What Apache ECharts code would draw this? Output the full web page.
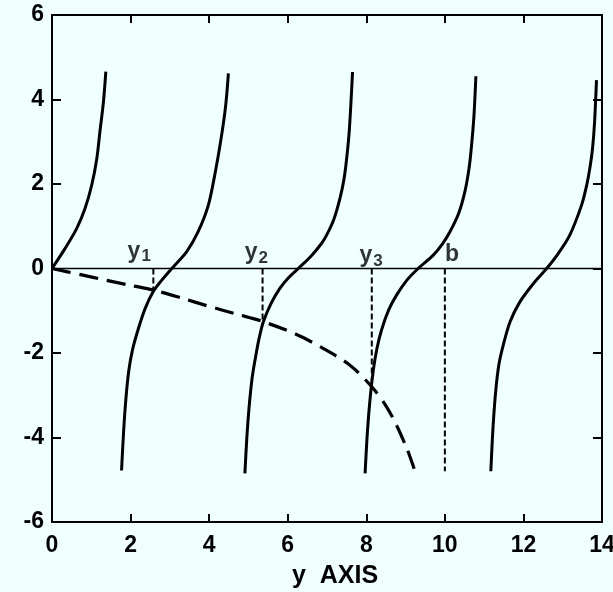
<!DOCTYPE html>
<html>
<head>
<meta charset="utf-8">
<script src="https://cdn.jsdelivr.net/npm/echarts@6/dist/echarts.min.js"></script>
<style>
html,body{margin:0;padding:0;background:#f0ffff;}
#c{width:613px;height:592px;}
</style>
</head>
<body>
<div id="c"></div>
<script>
// Tick labels
const xTicks = [0, 2, 4, 6, 8, 10, 12, 14];
const yTicks = [-6, -4, -2, 0, 2, 4, 6];

// Solid tangent-like branches, [y, value]
const branch1 = [[0,0],[0.33,0.47],[0.63,0.95],[0.84,1.42],[1.01,1.97],[1.14,2.60],[1.22,3.24],[1.31,3.95],[1.37,4.66]];
const branch2 = [[1.77,-4.78],[1.82,-3.90],[1.88,-3.10],[1.95,-2.45],[2.05,-1.92],[2.20,-1.42],[2.37,-0.95],[2.58,-0.54],[2.79,-0.28],[3.05,0],[3.43,0.40],[3.72,0.87],[3.98,1.50],[4.15,2.25],[4.30,3.05],[4.42,3.85],[4.49,4.62]];
const branch3 = [[4.91,-4.85],[4.96,-4.00],[5.02,-3.25],[5.10,-2.55],[5.20,-2.00],[5.28,-1.62],[5.38,-1.26],[5.58,-0.82],[5.80,-0.47],[6.02,-0.22],[6.27,0],[6.61,0.31],[6.85,0.58],[6.99,0.79],[7.18,1.18],[7.33,1.66],[7.43,2.10],[7.50,2.60],[7.57,3.30],[7.65,4.65]];
const branch4 = [[7.97,-4.85],[8.03,-3.85],[8.10,-3.05],[8.18,-2.40],[8.27,-1.90],[8.39,-1.45],[8.57,-0.98],[8.77,-0.63],[9.03,-0.28],[9.32,0],[9.70,0.31],[9.93,0.57],[10.13,0.87],[10.35,1.30],[10.51,1.82],[10.62,2.40],[10.68,2.92],[10.74,3.60],[10.79,4.55]];
const branch5 = [[11.17,-4.80],[11.23,-3.70],[11.30,-2.85],[11.38,-2.25],[11.49,-1.80],[11.66,-1.26],[11.91,-0.79],[12.25,-0.36],[12.59,0],[12.89,0.36],[13.18,0.79],[13.48,1.50],[13.61,1.97],[13.69,2.37],[13.76,2.85],[13.81,3.45],[13.86,4.46]];

// Long-dashed curve
const dashedCurve = [[0,0],[0.70,-0.14],[1.39,-0.28],[2.00,-0.40],[2.58,-0.51],[3.30,-0.70],[3.94,-0.88],[4.70,-1.08],[5.38,-1.26],[6.20,-1.55],[6.90,-1.89],[7.60,-2.30],[8.14,-2.80],[8.50,-3.25],[8.77,-3.71],[9.05,-4.30],[9.24,-4.80]];

// Vertical markers: [position, lower end]
const markerX = [2.58, 5.36, 8.14, 10.0];
const markerLow = [-0.51, -1.26, -2.76, -4.80];
const markerBase = ['y', 'y', 'y', 'b'];
const markerSub = ['1', '2', '3', ''];
const labelPos = [[2.22,0.10],[5.20,0.07],[8.12,0.0],[10.18,0.03]];

const solidStyle = {color:'#000', width:3, type:'solid'};
const fontFam = 'Arial';
const fw = 'bold';

const series = [];
[branch1, branch2, branch3, branch4, branch5].forEach(b => {
  series.push({type:'line', data:b, smooth:0.3, symbol:'none', lineStyle:solidStyle, z:3});
});
series.push({type:'line', data:[[0,0],[14,0]], symbol:'none', lineStyle:{color:'#000', width:1.5}, z:2});
series.push({type:'line', data:dashedCurve, smooth:0.3, symbol:'none', lineStyle:{color:'#000', width:3.2, type:[19,9]}, z:3});
markerX.forEach((x,i) => {
  series.push({type:'line', data:[[x,0],[x,markerLow[i]]], symbol:'none', lineStyle:{color:'#000', width:2, type:[6,3]}, z:2});
});
series.push({
  type:'scatter', symbolSize:1,
  itemStyle:{color:'rgba(0,0,0,0)'},
  data: labelPos.map((p,i) => ({value:p, name:String(i)})),
  label:{show:true, position:'top', distance:0, color:'#000', fontWeight:fw,
    formatter: p => {
      const i = +p.name;
      return '{a|' + markerBase[i] + '}' + (markerSub[i] ? '{s|' + markerSub[i] + '}' : '');
    },
    rich:{
      a:{color:'#000', fontSize:23, fontWeight:fw, fontFamily:fontFam, lineHeight:24},
      s:{color:'#000', fontSize:17, fontWeight:fw, fontFamily:fontFam, lineHeight:16, padding:[10,0,0,1]}
    }
  },
  emphasis:{disabled:true},
  z:4
});

const axisCommon = {
  min:0, max:14, interval:2, type:'value',
  axisLine:{show:true, onZero:false, lineStyle:{color:'#000', width:2}},
  axisTick:{show:true, inside:true, length:8, lineStyle:{color:'#000', width:2}},
  splitLine:{show:false}
};
const yCommon = {
  min:-6, max:6, interval:2, type:'value',
  axisLine:{show:true, onZero:false, lineStyle:{color:'#000', width:2}},
  axisTick:{show:true, inside:true, length:9, lineStyle:{color:'#000', width:2}},
  splitLine:{show:false}
};

const chart = echarts.init(document.getElementById('c'));
chart.setOption({
  backgroundColor:'#f0ffff',
  animation:false,
  textStyle:{fontFamily:fontFam},
  grid:{left:52, right:11, top:15, bottom:70, containLabel:false, outerBoundsMode:'none'},
  xAxis:[
    Object.assign({}, axisCommon, {position:'bottom',
      name:'y  AXIS', nameLocation:'middle', nameGap:42,
      nameTextStyle:{color:'#000', fontSize:25, fontWeight:fw, fontFamily:fontFam, padding:[0,0,0,16]},
      axisLabel:{color:'#000', fontSize:23, fontWeight:fw, fontFamily:fontFam, margin:12, formatter: v => xTicks.includes(v) ? String(v) : ''}}),
    Object.assign({}, axisCommon, {position:'top', axisLabel:{show:false}})
  ],
  yAxis:[
    Object.assign({}, yCommon, {position:'left',
      axisLabel:{color:'#000', fontSize:23, fontWeight:fw, fontFamily:fontFam, margin:8, formatter: v => yTicks.includes(v) ? String(v) : ''}}),
    Object.assign({}, yCommon, {position:'right', axisLabel:{show:false}})
  ],
  series: series
});
</script>
</body>
</html>
